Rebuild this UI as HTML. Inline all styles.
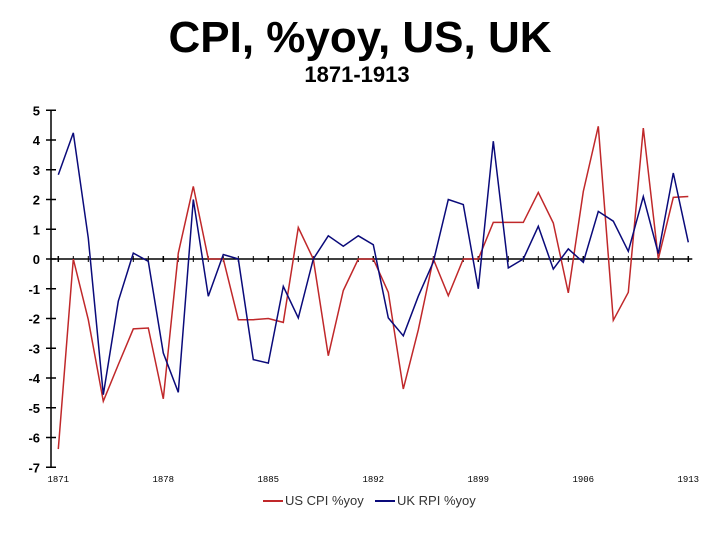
<!DOCTYPE html>
<html><head><meta charset="utf-8"><style>
body{margin:0;background:#fff}
svg{display:block;font-family:"Liberation Sans",sans-serif}
</style></head><body>
<svg id="chart" width="720" height="540" viewBox="0 0 720 540" xmlns="http://www.w3.org/2000/svg">
<text x="360" y="52" text-anchor="middle" font-size="44" font-weight="bold">CPI, %yoy, US, UK</text>
<text x="357" y="82" text-anchor="middle" font-size="22" font-weight="bold">1871-1913</text>
<g id="axes"></g>
<g id="series"></g>
<g>
<line x1="263" y1="501" x2="283" y2="501" stroke="#c0282a" stroke-width="2"/>
<text x="285" y="505" font-size="13" fill="#333">US CPI %yoy</text>
<line x1="375" y1="501" x2="395" y2="501" stroke="#0a0a7a" stroke-width="2"/>
<text x="397" y="505" font-size="13" fill="#333">UK RPI %yoy</text>
</g>
</svg>
<script>
const years = [];
for (let y = 1871; y <= 1913; y++) years.push(y);
const usCpi = [-6.39,0,-2.04,-4.78,-3.55,-2.35,-2.32,-4.7,0.2,2.44,0,0,-2.04,-2.04,-2.0,-2.13,1.06,0,-3.25,-1.06,0,0,-1.12,-4.37,-2.38,0,-1.23,0,0,1.23,1.23,1.23,2.24,1.21,-1.14,2.27,4.46,-2.06,-1.12,4.4,0,2.07,2.1];
const ukRpi = [2.83,4.24,0.7,-4.56,-1.42,0.2,-0.08,-3.16,-4.48,2.0,-1.25,0.15,0,-3.38,-3.5,-0.92,-1.98,0,0.78,0.43,0.78,0.48,-1.98,-2.58,-1.25,-0.1,2.0,1.83,-1.0,3.96,-0.3,0,1.1,-0.34,0.34,-0.11,1.6,1.27,0.26,2.1,0.18,2.89,0.56];
const yTicks = [5,4,3,2,1,0,-1,-2,-3,-4,-5,-6,-7];
const xLabels = [1871,1878,1885,1892,1899,1906,1913];

const NS = "http://www.w3.org/2000/svg";
const xS = yr => 58.3 + (yr - 1871) * 15;
const yS = v => 259 - v * 29.75;
function mk(tag, attrs, parent) {
  const e = document.createElementNS(NS, tag);
  for (const k in attrs) e.setAttribute(k, attrs[k]);
  parent.appendChild(e);
  return e;
}
const axes = document.getElementById('axes');
const series = document.getElementById('series');

const yAxis = mk('line', {x1:51, y1:yS(5), x2:51, y2:yS(-7), stroke:'#000', 'stroke-width':1.5}, axes);


yTicks.forEach(v => {
  const t = mk('line', {x1:46, y1:yS(v), x2:56, y2:yS(v), stroke:'#000', 'stroke-width':1.5}, axes);
  
  
  const l = mk('text', {x:40, y:yS(v)+5, 'text-anchor':'end', 'font-size':13, 'font-weight':'bold'}, axes);
  l.textContent = v;
  
  
});
const xAxis = mk('line', {x1:51, y1:yS(0), x2:xS(1913)+4, y2:yS(0), stroke:'#000', 'stroke-width':1.5}, axes);


years.forEach(yr => {
  const big = xLabels.includes(yr);
  const t = mk('line', {x1:xS(yr), y1:yS(0)-3, x2:xS(yr), y2:yS(0)+3, stroke:'#000', 'stroke-width':big?1.5:1}, axes);
  
  
});
xLabels.forEach(yr => {
  const l = mk('text', {x:xS(yr), y:482, 'text-anchor':'middle', 'font-size':9, 'font-family':'Liberation Mono, monospace'}, axes);
  l.textContent = yr;
  
  
});

function line(vals, color, name) {
  const pts = vals.map((v, i) => xS(years[i]).toFixed(1) + ',' + yS(v).toFixed(1)).join(' ');
  const p = mk('polyline', {points:pts, fill:'none', stroke:color, 'stroke-width':1.5, 'stroke-linejoin':'miter'}, series);
  
  
}
line(usCpi, '#c0282a', 'us-cpi-line');
line(ukRpi, '#0a0a7a', 'uk-rpi-line');
</script>
</body></html>
